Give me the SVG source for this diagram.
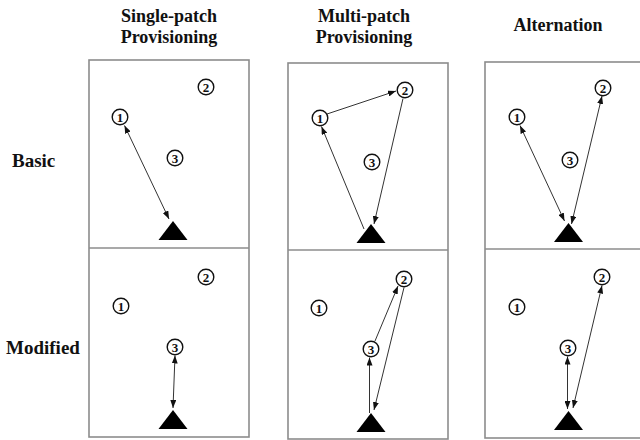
<svg xmlns="http://www.w3.org/2000/svg" width="640" height="440" viewBox="0 0 640 440">
  <style>
    .title { font-family: "Liberation Serif", "Times New Roman", serif; font-weight: bold; font-size: 18px; fill: #111; text-anchor: middle; }
    .rowlabel { font-family: "Liberation Serif", "Times New Roman", serif; font-weight: bold; font-size: 19px; fill: #111; }
    .panel { fill: #fff; stroke: #8c8c8c; stroke-width: 1.6; }
    .patch circle { fill: #fff; stroke: #111; stroke-width: 1.4; }
    .patch text { font-family: "Liberation Serif", "Times New Roman", serif; font-weight: bold; font-size: 13px; fill: #111; text-anchor: middle; }
    .source { fill: #000; }
    .link { stroke: #333; stroke-width: 1; fill: none; marker-end: url(#head); }
    .both { marker-start: url(#head); }
  </style>
  <defs>
    <marker id="head" viewBox="0 0 8 6" refX="8" refY="3" markerWidth="8" markerHeight="6" markerUnits="userSpaceOnUse" orient="auto-start-reverse">
      <path d="M0,0 L8,3 L0,6 z" fill="#111"/>
    </marker>
    <g id="tri"><polygon points="0,0 -14.5,19 14.5,19"/></g>
  </defs>
  <rect width="640" height="440" fill="#fff"/>

  <!-- column and row headings -->
  <g id="headings">
    <text class="title" x="169" y="22">Single-patch</text>
    <text class="title" x="169" y="43">Provisioning</text>
    <text class="title" x="364" y="22">Multi-patch</text>
    <text class="title" x="364" y="43">Provisioning</text>
    <text class="title" x="558" y="31">Alternation</text>
    <text class="rowlabel" x="12" y="167">Basic</text>
    <text class="rowlabel" x="6" y="354">Modified</text>
  </g>

  <!-- panel frames -->
  <g id="frames">
    <rect class="panel" x="89" y="60" width="160" height="377"/>
    <line class="panel" x1="89" y1="248" x2="249" y2="248"/>
    <rect class="panel" x="288" y="63" width="160" height="376"/>
    <line class="panel" x1="288" y1="250" x2="448" y2="250"/>
    <rect class="panel" x="485" y="62" width="170" height="376"/>
    <line class="panel" x1="485" y1="249" x2="655" y2="249"/>
  </g>

  <!-- connectors -->
  <g id="connectors">
    <!-- single-patch, basic -->
    <line class="link both" x1="124.5" y1="125.5" x2="169" y2="219"/>
    <!-- single-patch, modified -->
    <line class="link both" x1="175" y1="355.5" x2="173" y2="408"/>
    <!-- multi-patch, basic -->
    <line class="link" x1="327" y1="114" x2="396" y2="91"/>
    <line class="link" x1="403" y1="98.5" x2="374" y2="224"/>
    <line class="link" x1="364" y1="229" x2="321.5" y2="126.5"/>
    <!-- multi-patch, modified -->
    <line class="link" x1="369.5" y1="413" x2="369.5" y2="357.5"/>
    <line class="link" x1="375" y1="341" x2="398" y2="286"/>
    <line class="link" x1="404" y1="287.5" x2="374" y2="410"/>
    <!-- alternation, basic -->
    <line class="link both" x1="520" y1="125.5" x2="564.5" y2="221"/>
    <line class="link both" x1="602" y1="96" x2="571.5" y2="224"/>
    <!-- alternation, modified -->
    <line class="link both" x1="567.5" y1="356.5" x2="567.5" y2="409"/>
    <line class="link both" x1="602" y1="285.5" x2="573" y2="408"/>
  </g>

  <!-- single-patch, basic -->
  <g id="sp-basic-1" class="patch"><circle cx="120" cy="117" r="7.8"/><text x="120" y="121.5">1</text></g>
  <g id="sp-basic-2" class="patch"><circle cx="206" cy="87" r="7.8"/><text x="206" y="91.5">2</text></g>
  <g id="sp-basic-3" class="patch"><circle cx="175" cy="158" r="7.8"/><text x="175" y="162.5">3</text></g>
  <g id="sp-basic-source"><use href="#tri" x="173" y="221" class="source"/></g>

  <!-- single-patch, modified -->
  <g id="sp-mod-1" class="patch"><circle cx="121" cy="306" r="7.8"/><text x="121" y="310.5">1</text></g>
  <g id="sp-mod-2" class="patch"><circle cx="206" cy="277" r="7.8"/><text x="206" y="281.5">2</text></g>
  <g id="sp-mod-3" class="patch"><circle cx="175" cy="347" r="7.8"/><text x="175" y="351.5">3</text></g>
  <g id="sp-mod-source"><use href="#tri" x="173" y="410" class="source"/></g>

  <!-- multi-patch, basic -->
  <g id="mp-basic-1" class="patch"><circle cx="320" cy="118" r="7.8"/><text x="320" y="122.5">1</text></g>
  <g id="mp-basic-2" class="patch"><circle cx="405" cy="90" r="7.8"/><text x="405" y="94.5">2</text></g>
  <g id="mp-basic-3" class="patch"><circle cx="372" cy="162" r="7.8"/><text x="372" y="166.5">3</text></g>
  <g id="mp-basic-source"><use href="#tri" x="371" y="224" class="source"/></g>

  <!-- multi-patch, modified -->
  <g id="mp-mod-1" class="patch"><circle cx="319" cy="308" r="7.8"/><text x="319" y="312.5">1</text></g>
  <g id="mp-mod-2" class="patch"><circle cx="404" cy="279" r="7.8"/><text x="404" y="283.5">2</text></g>
  <g id="mp-mod-3" class="patch"><circle cx="371" cy="349" r="7.8"/><text x="371" y="353.5">3</text></g>
  <g id="mp-mod-source"><use href="#tri" x="371" y="413" class="source"/></g>

  <!-- alternation, basic -->
  <g id="alt-basic-1" class="patch"><circle cx="517" cy="117" r="7.8"/><text x="517" y="121.5">1</text></g>
  <g id="alt-basic-2" class="patch"><circle cx="603" cy="88" r="7.8"/><text x="603" y="92.5">2</text></g>
  <g id="alt-basic-3" class="patch"><circle cx="570" cy="160" r="7.8"/><text x="570" y="164.5">3</text></g>
  <g id="alt-basic-source"><use href="#tri" x="568.5" y="223" class="source"/></g>

  <!-- alternation, modified -->
  <g id="alt-mod-1" class="patch"><circle cx="517" cy="307" r="7.8"/><text x="517" y="311.5">1</text></g>
  <g id="alt-mod-2" class="patch"><circle cx="602" cy="277" r="7.8"/><text x="602" y="281.5">2</text></g>
  <g id="alt-mod-3" class="patch"><circle cx="568" cy="348" r="7.8"/><text x="568" y="352.5">3</text></g>
  <g id="alt-mod-source"><use href="#tri" x="568.5" y="411" class="source"/></g>
</svg>
